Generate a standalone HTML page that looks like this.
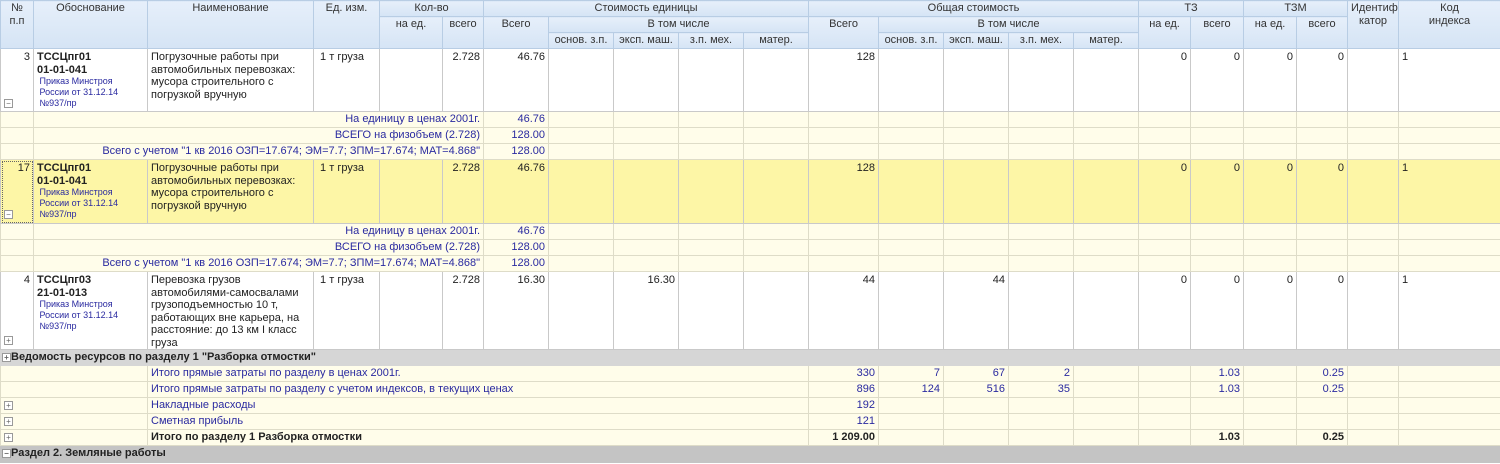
<!DOCTYPE html>
<html><head><meta charset="utf-8">
<style>
body{margin:0;background:#fff;width:1500px;height:464px;overflow:hidden;font-family:"Liberation Sans","DejaVu Sans",sans-serif;font-size:11px;color:#222}
table{border-collapse:collapse;table-layout:fixed;width:1500px}
td,th{border:1px solid #c9c9c9;padding:0 3px;overflow:hidden;white-space:nowrap;font-weight:normal;line-height:14px}
thead th{background:linear-gradient(#e6effa,#d5e4f5);color:#333;vertical-align:top;text-align:center;border-color:#b8cde4;height:14px;padding-top:1px;line-height:13px}
tbody td{vertical-align:top;text-align:right;line-height:12.5px;padding-top:2px}
.l{text-align:left}
.b{font-weight:bold}
.blue{color:#2a2aa0}
.y td{background:#fffdea;height:15px;border-color:#dedcc8;line-height:14px;padding-top:0}
.hl td{background:#fdf6a6}
.g td{background:#d6d6d6;height:15px;text-align:left;font-weight:bold;border-color:#d6d6d6;line-height:14px;padding-top:0}
.g2 td{background:#c4c4c4;height:16px;text-align:left;font-weight:bold;border-color:#c4c4c4;line-height:14px;padding-top:0}
.ic{display:inline-block;width:7px;height:7px;border:1px solid #999;font-size:8px;line-height:7px;text-align:center;color:#666;vertical-align:middle;background:#fff}
.small{font-size:9px;color:#2a2aa0;line-height:11px}
</style></head><body>
<table>
<colgroup>
<col style="width:33px"><col style="width:114px"><col style="width:166px"><col style="width:66px"><col style="width:63px"><col style="width:41px"><col style="width:65px"><col style="width:65px"><col style="width:65px"><col style="width:65px"><col style="width:65px"><col style="width:70px"><col style="width:65px"><col style="width:65px"><col style="width:65px"><col style="width:65px"><col style="width:52px"><col style="width:53px"><col style="width:53px"><col style="width:51px"><col style="width:51px"><col style="width:102px">
</colgroup>
<thead>
<tr><th rowspan="3">№<br>п.п</th><th rowspan="3">Обоснование</th><th rowspan="3">Наименование</th><th rowspan="3">Ед. изм.</th><th colspan="2">Кол-во</th><th colspan="5">Стоимость единицы</th><th colspan="5">Общая стоимость</th><th colspan="2">ТЗ</th><th colspan="2">ТЗМ</th><th rowspan="3">Идентифи<br>катор</th><th rowspan="3">Код<br>индекса</th></tr>
<tr><th rowspan="2">на ед.</th><th rowspan="2">всего</th><th rowspan="2">Всего</th><th colspan="4">В том числе</th><th rowspan="2">Всего</th><th colspan="4">В том числе</th><th rowspan="2">на ед.</th><th rowspan="2">всего</th><th rowspan="2">на ед.</th><th rowspan="2">всего</th></tr>
<tr><th>основ. з.п.</th><th>эксп. маш.</th><th>з.п. мех.</th><th>матер.</th><th>основ. з.п.</th><th>эксп. маш.</th><th>з.п. мех.</th><th>матер.</th></tr>
</thead>
<tbody>
<tr style="height:63px"><td>3<div style="text-align:left;margin-top:34px"><span class="ic">−</span></div></td><td class="l"><span class="b">ТССЦпг01<br>01-01-041</span><div class="small">&nbsp;Приказ Минстроя<br>&nbsp;России от 31.12.14<br>&nbsp;№937/пр</div></td><td class="l" style="white-space:normal">Погрузочные работы при автомобильных перевозках: мусора строительного с погрузкой вручную</td><td class="l">&nbsp;1 т груза</td><td></td><td>2.728</td><td>46.76</td><td></td><td></td><td></td><td></td><td>128</td><td></td><td></td><td></td><td></td><td>0</td><td>0</td><td>0</td><td>0</td><td></td><td class="l">1</td></tr>
<tr class="y"><td></td><td colspan="5" class="blue">На единицу в ценах 2001г.</td><td class="blue">46.76</td><td></td><td></td><td></td><td></td><td></td><td></td><td></td><td></td><td></td><td></td><td></td><td></td><td></td><td></td><td></td></tr>
<tr class="y"><td></td><td colspan="5" class="blue">ВСЕГО на физобъем (2.728)</td><td class="blue">128.00</td><td></td><td></td><td></td><td></td><td></td><td></td><td></td><td></td><td></td><td></td><td></td><td></td><td></td><td></td><td></td></tr>
<tr class="y"><td></td><td colspan="5" class="blue">Всего с учетом "1 кв 2016 ОЗП=17.674; ЭМ=7.7; ЗПМ=17.674; МАТ=4.868"</td><td class="blue">128.00</td><td></td><td></td><td></td><td></td><td></td><td></td><td></td><td></td><td></td><td></td><td></td><td></td><td></td><td></td><td></td></tr>
<tr class="hl" style="height:64px"><td style="outline:1px dotted #666;outline-offset:-2px">17<div style="text-align:left;margin-top:34px"><span class="ic">−</span></div></td><td class="l"><span class="b">ТССЦпг01<br>01-01-041</span><div class="small">&nbsp;Приказ Минстроя<br>&nbsp;России от 31.12.14<br>&nbsp;№937/пр</div></td><td class="l" style="white-space:normal">Погрузочные работы при автомобильных перевозках: мусора строительного с погрузкой вручную</td><td class="l">&nbsp;1 т груза</td><td></td><td>2.728</td><td>46.76</td><td></td><td></td><td></td><td></td><td>128</td><td></td><td></td><td></td><td></td><td>0</td><td>0</td><td>0</td><td>0</td><td></td><td class="l">1</td></tr>
<tr class="y"><td></td><td colspan="5" class="blue">На единицу в ценах 2001г.</td><td class="blue">46.76</td><td></td><td></td><td></td><td></td><td></td><td></td><td></td><td></td><td></td><td></td><td></td><td></td><td></td><td></td><td></td></tr>
<tr class="y"><td></td><td colspan="5" class="blue">ВСЕГО на физобъем (2.728)</td><td class="blue">128.00</td><td></td><td></td><td></td><td></td><td></td><td></td><td></td><td></td><td></td><td></td><td></td><td></td><td></td><td></td><td></td></tr>
<tr class="y"><td></td><td colspan="5" class="blue">Всего с учетом "1 кв 2016 ОЗП=17.674; ЭМ=7.7; ЗПМ=17.674; МАТ=4.868"</td><td class="blue">128.00</td><td></td><td></td><td></td><td></td><td></td><td></td><td></td><td></td><td></td><td></td><td></td><td></td><td></td><td></td><td></td></tr>
<tr style="height:77px"><td>4<div style="text-align:left;margin-top:48px"><span class="ic">+</span></div></td><td class="l"><span class="b">ТССЦпг03<br>21-01-013</span><div class="small">&nbsp;Приказ Минстроя<br>&nbsp;России от 31.12.14<br>&nbsp;№937/пр</div></td><td class="l" style="white-space:normal">Перевозка грузов автомобилями-самосвалами грузоподъемностью 10 т, работающих вне карьера, на расстояние: до 13 км I класс груза</td><td class="l">&nbsp;1 т груза</td><td></td><td>2.728</td><td>16.30</td><td></td><td>16.30</td><td></td><td></td><td>44</td><td></td><td>44</td><td></td><td></td><td>0</td><td>0</td><td>0</td><td>0</td><td></td><td class="l">1</td></tr>
<tr class="g"><td colspan="22" style="padding-left:1px"><span class="ic">+</span>Ведомость ресурсов по разделу 1 "Разборка отмостки"</td></tr>
<tr class="y"><td colspan="2"></td><td colspan="9" class="l blue">Итого прямые затраты по разделу в ценах 2001г.</td><td class="blue">330</td><td class="blue">7</td><td class="blue">67</td><td class="blue">2</td><td></td><td></td><td class="blue">1.03</td><td></td><td class="blue">0.25</td><td></td><td></td></tr>
<tr class="y"><td colspan="2"></td><td colspan="9" class="l blue">Итого прямые затраты по разделу с учетом индексов, в текущих ценах</td><td class="blue">896</td><td class="blue">124</td><td class="blue">516</td><td class="blue">35</td><td></td><td></td><td class="blue">1.03</td><td></td><td class="blue">0.25</td><td></td><td></td></tr>
<tr class="y"><td colspan="2" class="l"><span class="ic">+</span></td><td colspan="9" class="l blue">Накладные расходы</td><td class="blue">192</td><td></td><td></td><td></td><td></td><td></td><td></td><td></td><td></td><td></td><td></td></tr>
<tr class="y"><td colspan="2" class="l"><span class="ic">+</span></td><td colspan="9" class="l blue">Сметная прибыль</td><td class="blue">121</td><td></td><td></td><td></td><td></td><td></td><td></td><td></td><td></td><td></td><td></td></tr>
<tr class="y"><td colspan="2" class="l"><span class="ic">+</span></td><td colspan="9" class="l b">Итого по разделу 1 Разборка отмостки</td><td class="b">1 209.00</td><td></td><td></td><td></td><td></td><td></td><td class="b">1.03</td><td></td><td class="b">0.25</td><td></td><td></td></tr>
<tr class="g2"><td colspan="22" style="padding-left:1px"><span class="ic">−</span>Раздел 2. Земляные работы</td></tr>
</tbody></table>
</body></html>
